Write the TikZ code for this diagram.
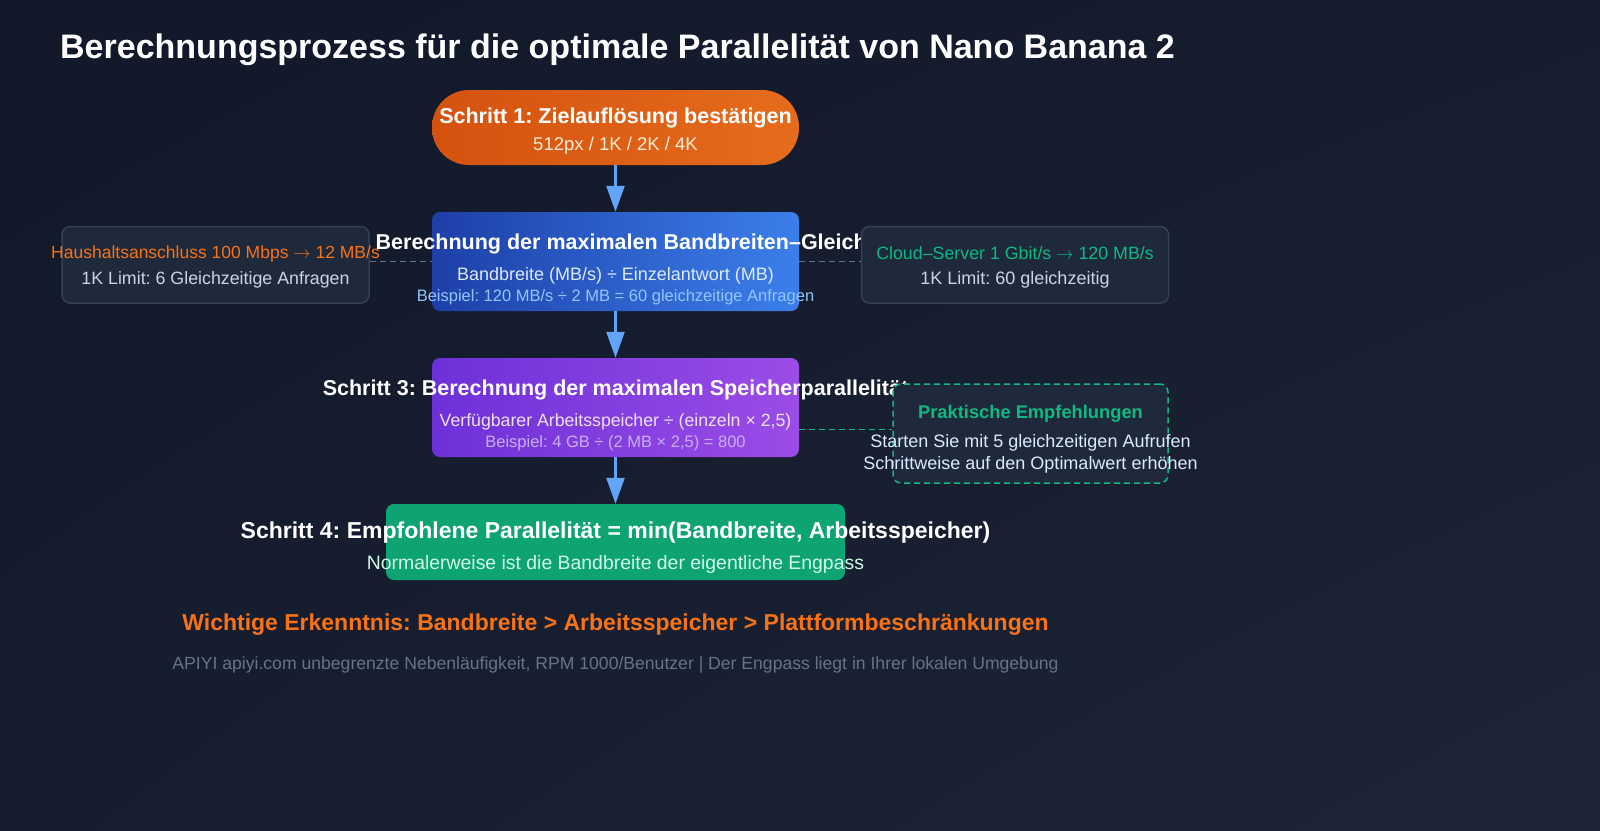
\documentclass[tikz,border=0pt]{standalone}
\usepackage{fontspec}
\setmainfont{Liberation Sans}
\usetikzlibrary{arrows.meta,shadings}
\frenchspacing
\definecolor{bgA}{HTML}{111829}
\definecolor{bgB}{HTML}{161D2F}
\definecolor{bgC}{HTML}{1E2536}
\definecolor{orA}{HTML}{D4520F}
\definecolor{orB}{HTML}{E66C1C}
\definecolor{blA}{HTML}{1E3FA8}
\definecolor{blB}{HTML}{3B7FEA}
\definecolor{puA}{HTML}{6D30D8}
\definecolor{puB}{HTML}{9B4CE6}
\definecolor{grBox}{HTML}{0EA372}
\definecolor{card}{HTML}{1E293B}
\definecolor{cardline}{HTML}{334155}
\definecolor{arrowc}{HTML}{60A5FA}
\definecolor{orangeT}{HTML}{F97316}
\definecolor{greenT}{HTML}{10B981}
\definecolor{slateT}{HTML}{CBD5E1}
\definecolor{footT}{HTML}{64748B}
\definecolor{dashc}{HTML}{64748B}
\definecolor{orSub}{HTML}{FFEDD5}
\definecolor{blSub}{HTML}{DBEAFE}
\definecolor{blEx}{HTML}{93C5FD}
\definecolor{puSub}{HTML}{EDE0FF}
\definecolor{puEx}{HTML}{C8AEF5}
\definecolor{grSub}{HTML}{D1FAE5}
\newlength\sztwolen
\tikzset{
  fs/.style={font=\fontsize{#1}{#1}\selectfont},
  fsb/.style={font=\fontsize{#1}{#1}\selectfont\bfseries},
  txt/.style={inner sep=0pt, anchor=center},
  box/.style={inner sep=0pt, rounded corners=8pt},
  sidecard/.style={box, fill=card, draw=cardline, line width=1.5pt, minimum width=307pt, minimum height=76.5pt},
  arr/.style={draw=arrowc, line width=2.5pt, -{Triangle[length=26pt,width=18pt]}, shorten >=0pt},
  gconn/.style={draw=dashc, line width=1.5pt, dash pattern=on 6pt off 4pt},
  grconn/.style={draw=greenT, line width=1.5pt, dash pattern=on 6pt off 4pt},
}
\begin{document}
\settowidth{\sztwolen}{\fontsize{21.5}{21.5}\selectfont\bfseries Schritt 2: }
\begin{tikzpicture}[x=1pt,y=-1pt]
\useasboundingbox (0,0) rectangle (1600,830);
\shade[upper left=bgA, upper right=bgB, lower left=bgB, lower right=bgC] (0,0) rectangle (1600,830);

% title
\node[txt, anchor=west, fsb=34, text=white] (title) at (60,50) {Berechnungsprozess für die optimale Parallelität von Nano Banana 2};

% step boxes
\node[box, rounded corners=37pt, left color=orA, right color=orB, minimum width=367pt, minimum height=75pt] (s1) at (615.5,127.5) {};
\node[box, left color=blA, right color=blB, minimum width=367pt, minimum height=99pt] (s2) at (615.5,261.5) {};
\node[box, left color=puA, right color=puB, minimum width=367pt, minimum height=99pt] (s3) at (615.5,407.5) {};
\node[box, fill=grBox, minimum width=459pt, minimum height=76pt] (s4) at (615.5,542) {};

% arrows
\draw[arr] (s1.south) -- (s2.north);
\draw[arr] (s2.south) -- (s3.north);
\draw[arr] (s3.south) -- (s4.north);

% step texts
\node[txt, fsb=21.5, text=white] (s1t) at (615.5,117.5) {Schritt 1: Zielauflösung bestätigen};
\node[txt, fs=18.5, text=orSub] (s1s) at (615.5,145.5) {512px / 1K / 2K / 4K};

\coordinate (s2anchor) at (375.5,243.5);
\node[txt, anchor=west, fsb=21.5, text=white] (s2t) at ([xshift=-\sztwolen]s2anchor) {Schritt 2: Berechnung der maximalen Bandbreiten–Gleichzeitigkeit};
\node[txt, fs=18, text=blSub] (s2s) at (615.5,276) {Bandbreite (MB/s) ÷ Einzelantwort (MB)};
\node[txt, fs=16.5, text=blEx] (s2e) at (615.5,297.5) {Beispiel: 120 MB/s ÷ 2 MB = 60 gleichzeitige Anfragen};

\node[txt, fsb=21.5, text=white] (s3t) at (615.5,389.5) {Schritt 3: Berechnung der maximalen Speicherparallelität};
\node[txt, fs=17.7, text=puSub] (s3s) at (615.5,421.5) {Verfügbarer Arbeitsspeicher ÷ (einzeln × 2,5)};
\node[txt, fs=16.5, text=puEx] (s3e) at (615.5,443.5) {Beispiel: 4 GB ÷ (2 MB × 2,5) = 800};

\node[txt, fsb=23, text=white] (s4t) at (615.5,532.5) {Schritt 4: Empfohlene Parallelität = min(Bandbreite, Arbeitsspeicher)};
\node[txt, fs=19.4, text=grSub] (s4s) at (615.5,564.5) {Normalerweise ist die Bandbreite der eigentliche Engpass};

% side cards
\node[sidecard] (hb) at (215.5,264.8) {};
\node[sidecard] (cs) at (1015,264.8) {};
\node[box, fill=card, draw=greenT, line width=1.5pt, dash pattern=on 6pt off 4pt, minimum width=275pt, minimum height=99pt] (pe) at (1030.5,433.5) {};

% connectors
\draw[gconn] (hb.east |- s2.west) -- (s2.west);
\draw[gconn] (s2.east) -- (s2.east -| cs.west);
\draw[grconn] ([yshift=-22pt]s3.east) -- ([yshift=-22pt]s3.east -| pe.west);

% side texts
\node[txt, fs=17.5, text=orangeT] (hbt) at (215.5,253.5) {Haushaltsanschluss 100 Mbps $\rightarrow$ 12 MB/s};
\node[txt, fs=17.8, text=slateT] (hbs) at (215.5,280) {1K Limit: 6 Gleichzeitige Anfragen};
\node[txt, fs=17.8, text=greenT] (cst) at (1015,253.5) {Cloud–Server 1 Gbit/s $\rightarrow$ 120 MB/s};
\node[txt, fs=18, text=slateT] (css) at (1015,280) {1K Limit: 60 gleichzeitig};
\node[txt, fsb=18.3, text=greenT] (pet) at (1030.5,413.5) {Praktische Empfehlungen};
\node[txt, fs=18, text=blSub] (pe1) at (1030.5,442.5) {Starten Sie mit 5 gleichzeitigen Aufrufen};
\node[txt, fs=18, text=blSub] (pe2) at (1030.5,464.5) {Schrittweise auf den Optimalwert erhöhen};

% bottom texts
\node[txt, fsb=23, text=orangeT] (key) at (615.5,624.5) {Wichtige Erkenntnis: Bandbreite > Arbeitsspeicher > Plattformbeschränkungen};
\node[txt, fs=17.6, text=footT] (foot) at (615.5,664.5) {APIYI apiyi.com unbegrenzte Nebenläufigkeit, RPM 1000/Benutzer | Der Engpass liegt in Ihrer lokalen Umgebung};
\end{tikzpicture}
\end{document}
